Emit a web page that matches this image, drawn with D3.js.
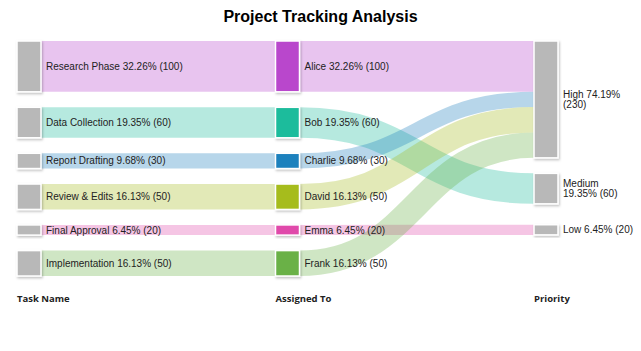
<!DOCTYPE html>
<html lang="en">
<head>
    <meta charset="UTF-8">
    <title>Project Tracking Analysis</title>
    <script src="https://cdn.jsdelivr.net/npm/d3@7/dist/d3.min.js"></script>
    <style>
        body { margin: 0; background: #fff; }
        .title { font: bold 16px "Liberation Sans", Arial, sans-serif; }
        .lbl { font: 10px "Liberation Sans", Arial, sans-serif; fill: #222; }
        .col { font: bold 9.5px "Open Sans", sans-serif; fill: #222; }
    </style>
</head>
<body>
<script>
    // 数据
    const tasks = ['Research Phase', 'Data Collection', 'Report Drafting', 'Review & Edits', 'Final Approval', 'Implementation'];
    const taskValues = [100, 60, 30, 50, 20, 50];
    const assignees = ['Alice', 'Bob', 'Charlie', 'David', 'Emma', 'Frank'];
    const assigneeColors = ['#b947cc', '#1dbc9c', '#1f81bd', '#a6bc1f', '#e04aaa', '#6ab146'];
    const priorities = ['High', 'Medium', 'Low'];
    const assigneePriority = ['High', 'Medium', 'High', 'High', 'Low', 'High'];
    const columnTitles = ['Task Name', 'Assigned To', 'Priority'];
    const greyNode = '#b8b8b8';

    const width = 641;
    const height = 351;

    let svg = d3.select('body')
        .append('svg')
        .attr('width', width)
        .attr('height', height);

    let defs = svg.append('defs');
    defs.append('filter')
        .attr('id', 'shadow')
        .attr('x', '-20%').attr('y', '-20%')
        .attr('width', '150%').attr('height', '150%')
        .append('feDropShadow')
        .attr('dx', 1).attr('dy', 1.5)
        .attr('stdDeviation', 1)
        .attr('flood-color', '#000')
        .attr('flood-opacity', 0.25);

    // 节点和连线
    let nodes = [];
    tasks.forEach(t => nodes.push({ id: t, color: greyNode }));
    assignees.forEach((a, i) => nodes.push({ id: a, color: assigneeColors[i] }));
    priorities.forEach(p => nodes.push({ id: p, color: greyNode }));

    let links = [];
    tasks.forEach((t, i) => links.push({ source: t, target: assignees[i], value: taskValues[i], color: assigneeColors[i] }));
    assignees.forEach((a, i) => links.push({ source: a, target: assigneePriority[i], value: taskValues[i], color: assigneeColors[i] }));

    const total = d3.sum(taskValues);

    // 桑基布局 (same steps as d3-sankey, nodeSort(null) so input order is kept)
    function sankey(nodes, links, opt) {
        const { x0, y0, x1, y1, nodeWidth: dx, iterations } = opt;
        let py = opt.nodePadding;
        const byId = new Map(nodes.map(d => [d.id, d]));
        nodes.forEach((n, i) => { n.index = i; n.sourceLinks = []; n.targetLinks = []; });
        links.forEach((l, i) => {
            l.index = i;
            l.source = byId.get(l.source);
            l.target = byId.get(l.target);
            l.source.sourceLinks.push(l);
            l.target.targetLinks.push(l);
        });
        nodes.forEach(n => {
            n.value = Math.max(d3.sum(n.sourceLinks, l => l.value), d3.sum(n.targetLinks, l => l.value));
        });
        // depth
        let current = new Set(nodes), next = new Set(), depth = 0;
        while (current.size) {
            for (const n of current) {
                n.depth = depth;
                for (const l of n.sourceLinks) next.add(l.target);
            }
            depth++;
            current = next; next = new Set();
        }
        const maxDepth = depth - 1;
        nodes.forEach(n => { n.layer = n.sourceLinks.length ? n.depth : maxDepth; });
        const columns = [];
        nodes.forEach(n => { (columns[n.layer] = columns[n.layer] || []).push(n); });
        const kx = (x1 - x0 - dx) / (columns.length - 1);
        columns.forEach((c, i) => c.forEach(n => { n.x0 = x0 + i * kx; n.x1 = n.x0 + dx; }));
        py = Math.min(py, (y1 - y0) / (d3.max(columns, c => c.length) - 1));

        const byBreadth = (a, b) => a.y0 - b.y0;
        const bySource = (a, b) => byBreadth(a.source, b.source) || a.index - b.index;
        const byTarget = (a, b) => byBreadth(a.target, b.target) || a.index - b.index;
        function reorderLinks(ns) {
            ns.forEach(n => { n.sourceLinks.sort(byTarget); n.targetLinks.sort(bySource); });
        }
        function reorderNodeLinks(n) {
            n.targetLinks.forEach(l => l.source.sourceLinks.sort(byTarget));
            n.sourceLinks.forEach(l => l.target.targetLinks.sort(bySource));
        }

        const ky = d3.min(columns, c => (y1 - y0 - (c.length - 1) * py) / d3.sum(c, n => n.value));
        columns.forEach(c => {
            let y = y0;
            c.forEach(n => {
                n.y0 = y; n.y1 = y + n.value * ky; y = n.y1 + py;
                n.sourceLinks.forEach(l => { l.width = l.value * ky; });
            });
            y = (y1 - y + py) / (c.length + 1);
            c.forEach((n, i) => { n.y0 += y * (i + 1); n.y1 += y * (i + 1); });
            reorderLinks(c);
        });

        function targetTop(source, target) {
            let y = source.y0 - (source.sourceLinks.length - 1) * py / 2;
            for (const l of source.sourceLinks) { if (l.target === target) break; y += l.width + py; }
            for (const l of target.targetLinks) { if (l.source === source) break; y -= l.width; }
            return y;
        }
        function sourceTop(source, target) {
            let y = target.y0 - (target.targetLinks.length - 1) * py / 2;
            for (const l of target.targetLinks) { if (l.source === source) break; y += l.width + py; }
            for (const l of source.sourceLinks) { if (l.target === target) break; y -= l.width; }
            return y;
        }
        function down(ns, y, i, a) {
            for (; i < ns.length; ++i) {
                const n = ns[i], d = (y - n.y0) * a;
                if (d > 1e-6) { n.y0 += d; n.y1 += d; }
                y = n.y1 + py;
            }
        }
        function up(ns, y, i, a) {
            for (; i >= 0; --i) {
                const n = ns[i], d = (n.y1 - y) * a;
                if (d > 1e-6) { n.y0 -= d; n.y1 -= d; }
                y = n.y0 - py;
            }
        }
        function resolve(ns, a) {
            const i = ns.length >> 1, s = ns[i];
            up(ns, s.y0 - py, i - 1, a);
            down(ns, s.y1 + py, i + 1, a);
            up(ns, y1, ns.length - 1, a);
            down(ns, y0, 0, a);
        }
        for (let it = 0; it < iterations; ++it) {
            const alpha = Math.pow(0.99, it);
            const beta = Math.max(1 - alpha, (it + 1) / iterations);
            for (let i = columns.length - 2; i >= 0; --i) {
                for (const s of columns[i]) {
                    let y = 0, w = 0;
                    for (const l of s.sourceLinks) {
                        const v = l.value * (l.target.layer - s.layer);
                        y += sourceTop(s, l.target) * v; w += v;
                    }
                    if (!(w > 0)) continue;
                    const d = (y / w - s.y0) * alpha;
                    s.y0 += d; s.y1 += d;
                    reorderNodeLinks(s);
                }
                resolve(columns[i], beta);
            }
            for (let i = 1; i < columns.length; ++i) {
                for (const t of columns[i]) {
                    let y = 0, w = 0;
                    for (const l of t.targetLinks) {
                        const v = l.value * (t.layer - l.source.layer);
                        y += targetTop(l.source, t) * v; w += v;
                    }
                    if (!(w > 0)) continue;
                    const d = (y / w - t.y0) * alpha;
                    t.y0 += d; t.y1 += d;
                    reorderNodeLinks(t);
                }
                resolve(columns[i], beta);
            }
        }
        nodes.forEach(n => {
            let a = n.y0, b = n.y0;
            n.sourceLinks.forEach(l => { l.y0 = a + l.width / 2; a += l.width; });
            n.targetLinks.forEach(l => { l.y1 = b + l.width / 2; b += l.width; });
        });
        return columns;
    }

    const columns = sankey(nodes, links, {
        x0: 17, y0: 41, x1: 558, y1: 276,
        nodeWidth: 24, nodePadding: 15.5, iterations: 32
    });

    // 标题
    svg.append('text')
        .attr('class', 'title')
        .attr('x', width / 2)
        .attr('y', 22)
        .attr('text-anchor', 'middle')
        .text('Project Tracking Analysis');

    // 连线
    const linkPath = d3.linkHorizontal()
        .source(d => [d.source.x1, d.y0])
        .target(d => [d.target.x0, d.y1]);

    svg.append('g')
        .attr('fill', 'none')
        .selectAll('path')
        .data(links)
        .join('path')
        .attr('d', linkPath)
        .attr('stroke', d => d.color)
        .attr('stroke-opacity', 0.32)
        .attr('stroke-width', d => Math.max(1, d.width));

    // 节点
    svg.append('g')
        .selectAll('rect')
        .data(nodes)
        .join('rect')
        .attr('x', d => d.x0)
        .attr('y', d => d.y0)
        .attr('width', d => d.x1 - d.x0)
        .attr('height', d => d.y1 - d.y0)
        .attr('fill', d => d.color)
        .attr('stroke', '#fff')
        .attr('stroke-width', 1.5)
        .attr('filter', 'url(#shadow)');

    // 标签
    const fmt = d => `${d.id} ${(d.value / total * 100).toFixed(2)}% (${d.value})`;
    const lastCol = columns.length - 1;
    const maxLabelW = 71;

    let labels = svg.append('g')
        .selectAll('text')
        .data(nodes)
        .join('text')
        .attr('class', 'lbl')
        .attr('x', d => d.x1 + 5);

    labels.each(function (d) {
        const t = d3.select(this);
        const words = fmt(d).split(' ');
        let lines = [words[0]];
        if (d.layer === lastCol) {
            // 最后一列需要换行
            const probe = t.append('tspan');
            for (let i = 1; i < words.length; i++) {
                const tryLine = lines[lines.length - 1] + ' ' + words[i];
                probe.text(tryLine);
                if (probe.node().getComputedTextLength() > maxLabelW) lines.push(words[i]);
                else lines[lines.length - 1] = tryLine;
            }
            probe.remove();
        } else {
            lines = [fmt(d)];
        }
        const lh = 10.5;
        const cy = (d.y0 + d.y1) / 2;
        const top = cy - (lines.length - 1) * lh / 2;
        lines.forEach((s, i) => {
            t.append('tspan')
                .attr('x', d.x1 + 5)
                .attr('y', top + i * lh)
                .attr('dy', '0.35em')
                .text(s);
        });
    });

    // 列标题
    svg.append('g')
        .selectAll('text')
        .data(columnTitles)
        .join('text')
        .attr('class', 'col')
        .attr('x', (d, i) => columns[i][0].x0)
        .attr('y', 302)
        .text(d => d);
</script>
</body>
</html>
